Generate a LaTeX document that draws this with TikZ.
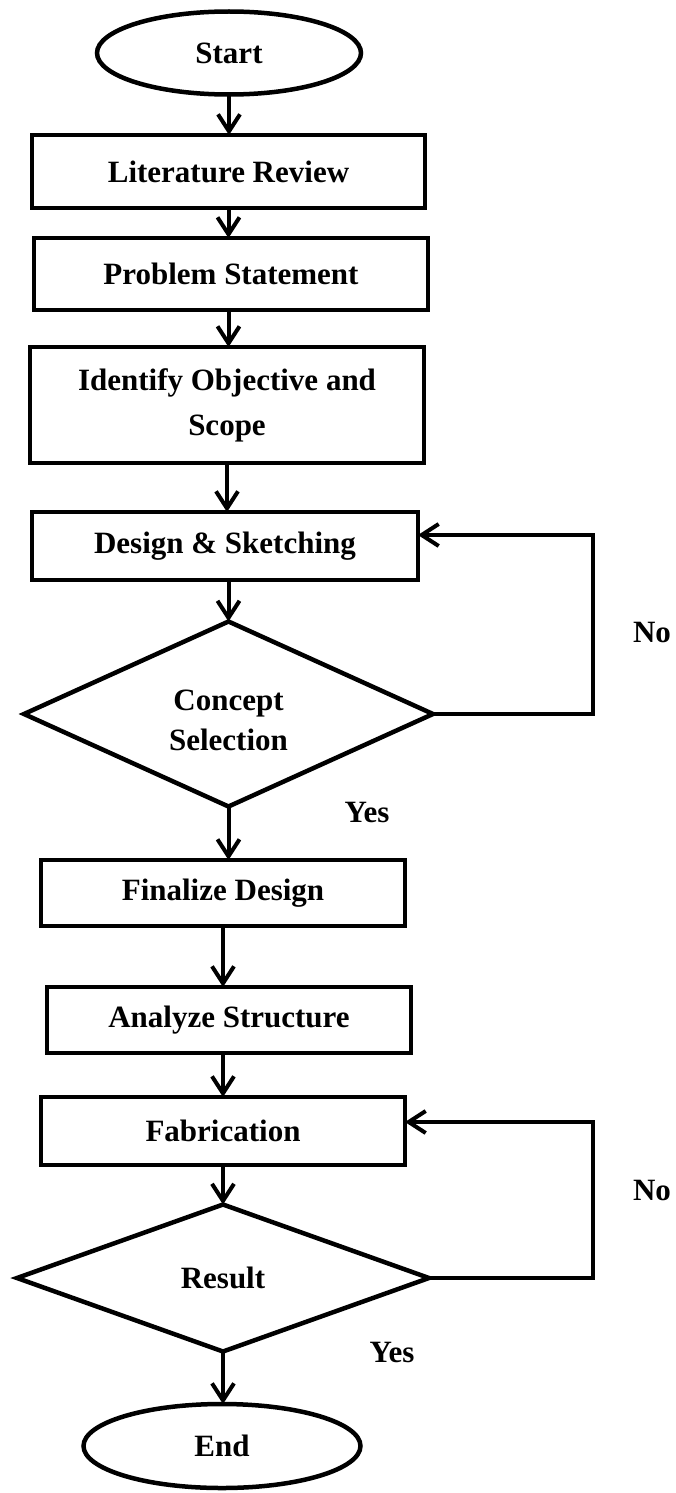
\documentclass[tikz,border=0pt]{standalone}
\usepackage{fontspec}
\setmainfont{Liberation Serif}
\usetikzlibrary{shapes.geometric,arrows.meta}
\begin{document}
\begin{tikzpicture}[x=1pt,y=1pt,
  every node/.style={font=\bfseries\fontsize{31}{40}\selectfont, inner sep=0pt, outer sep=0pt},
  blk/.style={draw, line width=4.5pt, rectangle, align=center},
  term/.style={draw, line width=4.5pt, ellipse},
  decide/.style={draw, line width=4.5pt, diamond, align=center},
  arr/.style={line width=4pt, -{Straight Barb[length=17pt,width=22pt,line width=4pt]}},
  loop/.style={line width=4pt, line join=miter, -{Straight Barb[length=17pt,width=22pt,line width=4pt]}},
  lbl/.style={}
]
\useasboundingbox (0,0) rectangle (676,-1493);

% process chain
\node[term, minimum width=264, minimum height=83] (start) at (229,-53) {Start};
\node[blk, minimum width=393, minimum height=73] (lit)  at (228.5,-171.5) {Literature Review};
\node[blk, minimum width=394, minimum height=72] (prob) at (231,-274) {Problem Statement};
\node[blk, minimum width=394, minimum height=116] (iden) at (227,-405) {Identify Objective and\\[5pt]Scope};
\node[blk, minimum width=386, minimum height=68] (des)  at (225,-546) {Design \& Sketching};
\node[decide, inner sep=-8pt, minimum width=409, minimum height=185] (con) at (228.5,-714) {\rule{0pt}{34pt}Concept\\Selection};
\node[blk, minimum width=364, minimum height=66] (fin)  at (223,-893) {Finalize Design};
\node[blk, minimum width=364, minimum height=66] (ana)  at (229,-1020) {Analyze Structure};
\node[blk, minimum width=364, minimum height=68] (fab)  at (223,-1131) {Fabrication};
\node[decide, minimum width=412, minimum height=147] (res) at (223,-1278) {Result};
\node[term, minimum width=277, minimum height=84] (end) at (222,-1446) {End};

% downward flow
\draw[arr] (start.south) -- (start.south |- lit.north);
\draw[arr] (lit.south) -- (lit.south |- prob.north);
\draw[arr] (prob.south -| lit.south) -- (lit.south |- iden.north);
\draw[arr] (iden.south) -- (iden.south |- des.north);
\draw[arr] (con.north |- des.south) -- (con.north);
\draw[arr] (con.south) -- (con.south |- fin.north);
\draw[arr] (fin.south) -- (fin.south |- ana.north);
\draw[arr] (fab.north |- ana.south) -- (fab.north);
\draw[arr] (fab.south) -- (res.north);
\draw[arr] (res.south) -- (res.south |- end.north);

% feedback loops
\coordinate (back1) at (593,-535);
\coordinate (back2) at (593,-1122);
\draw[loop] (con.east) -| (back1) -- (des.east |- back1);
\draw[loop] (res.east) -| (back2) -- (fab.east |- back2);

% branch labels
\node[lbl] (no1)  at (652,-632) {No};
\node[lbl] (yes1) at (367,-812) {Yes};
\node[lbl] (no2)  at (652,-1190) {No};
\node[lbl] (yes2) at (392,-1352) {Yes};
\end{tikzpicture}
\end{document}
